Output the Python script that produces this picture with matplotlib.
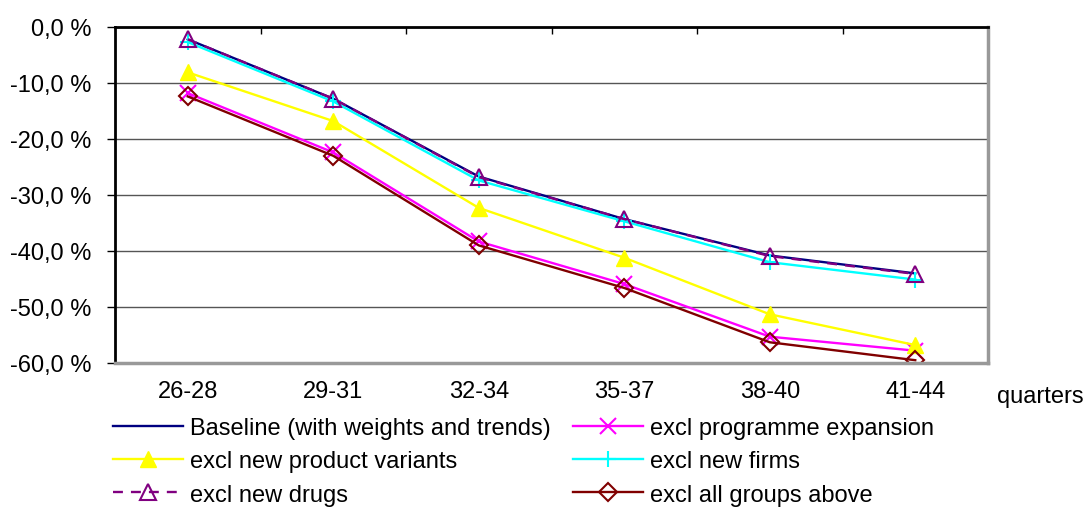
import matplotlib
matplotlib.use("Agg")
import matplotlib.pyplot as plt
from matplotlib.ticker import FuncFormatter, FixedLocator

plt.rcParams['font.family'] = ['Liberation Sans', 'DejaVu Sans']

quarters = ['26-28', '29-31', '32-34', '35-37', '38-40', '41-44']

baseline = [-2.2, -12.8, -26.7, -34.3, -40.8, -44.0]
excl_programme = [-11.8, -22.4, -38.3, -45.9, -55.3, -57.8]
excl_variants = [-8.1, -16.8, -32.3, -41.2, -51.3, -56.8]
excl_firms = [-2.7, -13.3, -27.4, -34.7, -42.0, -45.1]
excl_drugs = [-2.2, -12.8, -26.8, -34.3, -40.9, -44.1]
excl_all = [-12.4, -23.0, -39.0, -46.6, -56.3, -59.5]

fs = 17

fig = plt.figure(figsize=(10.84, 5.10), dpi=100)
ax = fig.add_axes([115 / 1084, 1 - 364 / 510, (988 - 115) / 1084, (364 - 28) / 510])

x = list(range(len(quarters)))
lw = 1.7

h_base, = ax.plot(x, baseline, color='#000080', lw=lw,
                  label='Baseline (with weights and trends)')
h_prog, = ax.plot(x, excl_programme, color='#FF00FF', lw=lw, marker='x',
                  ms=11, mew=1.5, label='excl programme expansion')
h_var, = ax.plot(x, excl_variants, color='#FFFF00', lw=lw, marker='^',
                 ms=12, label='excl new product variants')
h_firm, = ax.plot(x, excl_firms, color='#00FFFF', lw=lw, marker='+',
                  ms=12, mew=1.5, label='excl new firms')
h_drug, = ax.plot(x, excl_drugs, color='#800080', lw=lw, marker='^',
                  ms=12, mew=1.5, mfc='none', dashes=(4.2, 3.4),
                  label='excl new drugs')
h_all, = ax.plot(x, excl_all, color='#800000', lw=lw, marker='D',
                 ms=9, mew=1.5, mfc='none', label='excl all groups above')

ax.set_xlim(-0.5, len(quarters) - 0.5)
ax.set_ylim(-60, 0)
ax.set_yticks(range(-60, 1, 10))
ax.yaxis.set_major_formatter(FuncFormatter(lambda v, p: f'{v:.1f} %'.replace('.', ',')))
ax.yaxis.grid(True, color='#555555', lw=1)
ax.set_axisbelow(True)
ax.tick_params(axis='y', direction='out', length=6, width=1, labelsize=fs, pad=11)

# category ticks sit on the top (zero) axis, labels below the plot
ax.xaxis.set_major_locator(FixedLocator([i + 0.5 for i in range(len(quarters) - 1)]))
ax.tick_params(axis='x', which='major', top=True, bottom=False, labeltop=False,
               labelbottom=False, direction='in', length=5, width=1)
for i, q in enumerate(quarters):
    ax.text(i, -0.082, q, transform=ax.get_xaxis_transform(), ha='center',
            va='center', fontsize=fs)
fig.text(997 / 1084, 1 - 397 / 510, 'quarters', ha='left', va='center', fontsize=fs)

ax.spines['left'].set_color('black')
ax.spines['left'].set_linewidth(2)
ax.spines['top'].set_color('black')
ax.spines['top'].set_linewidth(2)
ax.spines['right'].set_color('#999999')
ax.spines['right'].set_linewidth(2.5)
ax.spines['bottom'].set_color('#999999')
ax.spines['bottom'].set_linewidth(2.5)

handles = [h_base, h_var, h_drug, h_prog, h_firm, h_all]
fig.legend(handles=handles, labels=[h.get_label() for h in handles], ncol=2,
           loc='upper left', bbox_to_anchor=(113 / 1084, 1 - 418 / 510),
           frameon=False, fontsize=fs, handlelength=2.95, handletextpad=0.3,
           columnspacing=0.95, labelspacing=0.48, borderpad=0, borderaxespad=0)

fig.savefig('out.png', dpi=100)
